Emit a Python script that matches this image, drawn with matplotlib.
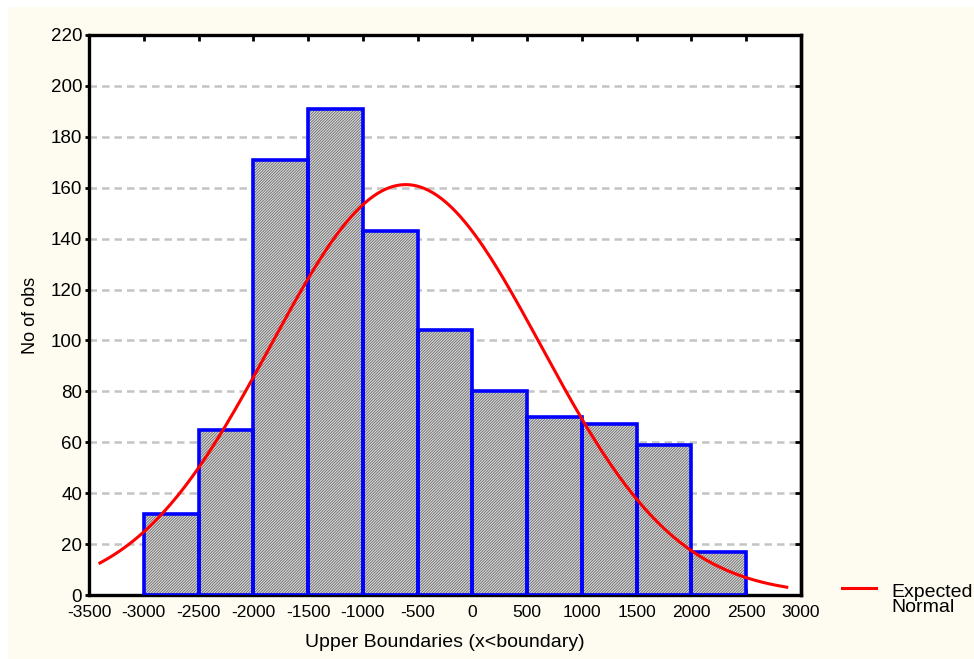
import numpy as np
import matplotlib.pyplot as plt
from matplotlib.patches import Rectangle

plt.rcParams['font.family'] = ['Liberation Sans', 'DejaVu Sans']
plt.rcParams['axes.unicode_minus'] = False
plt.rcParams['hatch.linewidth'] = 0.6

# histogram data (upper boundaries of 500-wide classes)
bin_left = [-3000, -2500, -2000, -1500, -1000, -500, 0, 500, 1000, 1500, 2000]
counts = [32, 65, 171, 191, 143, 104, 80, 70, 67, 59, 17]
bin_width = 500
x_ticks = list(range(-3500, 3001, 500))
y_ticks = list(range(0, 221, 20))

fig = plt.figure(figsize=(9.74, 6.59), dpi=100, facecolor='white')
fig.patches.append(Rectangle((8 / 974, 0), 1, 1 - 7 / 659, transform=fig.transFigure,
                             facecolor='#fefcf0', edgecolor='none', zorder=-10))
ax = fig.add_axes([0.0914, 0.0971, 0.7310, 0.8498])

# grid
for yv in y_ticks[1:-1]:
    ax.axhline(yv, color='#c4c4c4', lw=1.8, ls=(0, (3, 2.0)), zorder=0)

centers = np.array(bin_left) + bin_width / 2
ax.bar(bin_left, counts, width=bin_width, align='edge', facecolor='#dadada',
       edgecolor='#6a6a6a', hatch='/' * 12, lw=0, zorder=2)
ax.bar(bin_left, counts, width=bin_width, align='edge', fill=False,
       edgecolor='#0000ff', lw=2.6, zorder=3)

# expected normal from the histogram itself
n = sum(counts)
mean = np.sum(centers * counts) / n
sd = np.sqrt(np.sum(counts * (centers - mean) ** 2) / n)
xs = np.linspace(-3400, 2870, 300)
ys = n * bin_width / (sd * np.sqrt(2 * np.pi)) * np.exp(-0.5 * ((xs - mean) / sd) ** 2)
ax.plot(xs, ys, color='#ff0000', lw=2.2, zorder=4)

ax.set_xlim(-3500, 3000)
ax.set_ylim(0, 220)
ax.set_xticks(x_ticks)
ax.set_yticks(y_ticks)
ax.set_facecolor('white')
for s in ax.spines.values():
    s.set_linewidth(2.4)
ax.tick_params(axis='both', width=2, length=4, color='black')
ax.tick_params(axis='x', direction='in', top=True, pad=7, labelsize=12.5)
ax.tick_params(axis='y', direction='out', right=False, length=3, pad=2, labelsize=13.5)
ax2 = ax.secondary_yaxis('right')
ax2.set_yticks(y_ticks)
ax2.tick_params(direction='in', width=2, length=4, labelright=False)
ax2.spines['right'].set_linewidth(2.4)

ax.set_xlabel('Upper Boundaries (x<boundary)', fontsize=14, labelpad=10)
ax.set_ylabel('No of obs', fontsize=13, labelpad=8)

# legend
fig.add_artist(plt.Line2D([842 / 974, 876 / 974], [1 - 588 / 659] * 2, color='#ff0000', lw=2.2))
fig.text(891 / 974, 1 - 600 / 659, 'Expected\nNormal', fontsize=14, va='center', ha='left',
         linespacing=0.9)

fig.savefig('out.png', dpi=100, facecolor=fig.get_facecolor())
